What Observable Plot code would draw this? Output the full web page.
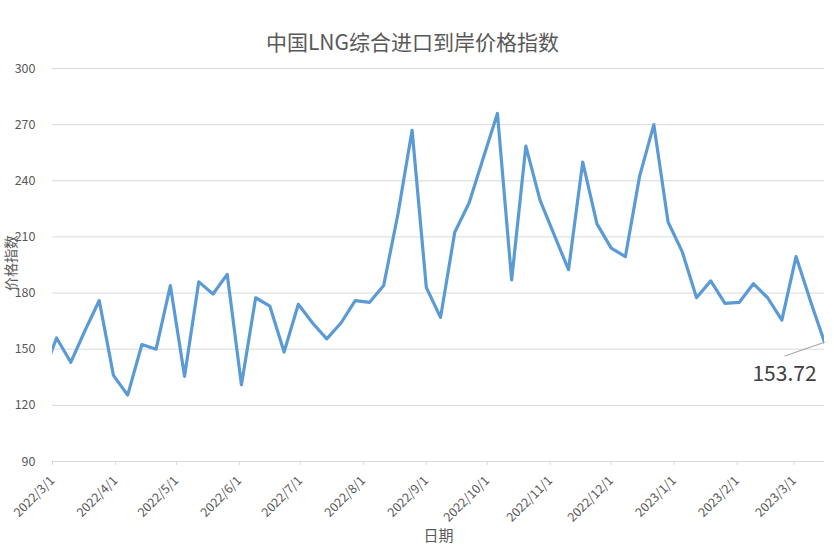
<!DOCTYPE html>
<html><head><meta charset="utf-8">
<script src="https://cdn.jsdelivr.net/npm/d3@7"></script>
<script src="https://cdn.jsdelivr.net/npm/@observablehq/plot@0.6"></script>
<style>body{margin:0;background:#fff;}</style>
</head><body><div id="chart"></div>
<script>
const title = "中国LNG综合进口到岸价格指数";
const yLabel = "价格指数";
const xLabel = "日期";
const lastLabel = "153.72";
const dates = [
  "2022-02-24","2022-03-03","2022-03-10","2022-03-17","2022-03-24","2022-03-31",
  "2022-04-07","2022-04-14","2022-04-21","2022-04-28",
  "2022-05-05","2022-05-12","2022-05-19","2022-05-26",
  "2022-06-02","2022-06-09","2022-06-16","2022-06-23","2022-06-30",
  "2022-07-07","2022-07-14","2022-07-21","2022-07-28",
  "2022-08-04","2022-08-11","2022-08-18","2022-08-25",
  "2022-09-01","2022-09-08","2022-09-15","2022-09-22","2022-09-29",
  "2022-10-06","2022-10-13","2022-10-20","2022-10-27",
  "2022-11-03","2022-11-10","2022-11-17","2022-11-24",
  "2022-12-01","2022-12-08","2022-12-15","2022-12-22","2022-12-29",
  "2023-01-05","2023-01-12","2023-01-19","2023-01-26",
  "2023-02-02","2023-02-09","2023-02-16","2023-02-23",
  "2023-03-02","2023-03-09","2023-03-16"
];
const values = [
  136, 156, 143, 160, 176, 136,
  125.5, 152.5, 150, 184,
  135.5, 186, 179.5, 190,
  131, 177.5, 173, 148.5, 174,
  164, 155.5, 164, 176,
  175, 184, 222, 267,
  183, 167, 212.5, 228, 252,
  276, 187, 258.5, 229.5,
  211, 192.5, 250, 217,
  204, 199.5, 242.5, 270, 218,
  202, 177.5, 186.5, 174.5,
  175, 185, 177.5, 165.5,
  199.5, 176, 153.72
];
const xTicks = ["2022-03-01","2022-04-01","2022-05-01","2022-06-01","2022-07-01","2022-08-01","2022-09-01","2022-10-01","2022-11-01","2022-12-01","2023-01-01","2023-02-01","2023-03-01"];
const yTicks = [90, 120, 150, 180, 210, 240, 270, 300];

const parse = d3.utcParse("%Y-%m-%d");
const data = dates.map((d, i) => ({date: parse(d), value: values[i]}));
const last = data[data.length - 1];
const font = "'Noto Sans CJK SC', 'Noto Sans', sans-serif";

const chart = Plot.plot({
  width: 834, height: 559,
  marginLeft: 52, marginRight: 10, marginTop: 68, marginBottom: 98,
  style: {fontFamily: font, background: "#fff", overflow: "visible"},
  x: {type: "utc", domain: [parse("2022-03-01"), parse("2023-03-16")]},
  y: {domain: [90, 300]},
  marks: [
    Plot.gridY(yTicks, {stroke: "#d9d9d9", strokeOpacity: 1, strokeWidth: 1}),
    Plot.axisY(yTicks, {tickSize: 0, tickPadding: 17, fill: "#595959", fontSize: 12.5, label: null}),
    Plot.axisX(xTicks.map(parse), {tickSize: 4, tickPadding: 13, stroke: "#d9d9d9", tickRotate: -45,
      tickFormat: d3.utcFormat("%Y/%-m/%-d"), fill: "#595959", fontSize: 12.5, label: null}),
    Plot.line(data, {x: "date", y: "value", stroke: "#5b9bd5", strokeWidth: 3.2, clip: true, strokeLinejoin: "round"}),
    Plot.vector([last], {x: "date", y: "value", anchor: "start", length: 42, rotate: 251,
      stroke: "#a6a6a6", strokeWidth: 1,
      shape: {draw(ctx, l) { ctx.moveTo(0, 0); ctx.lineTo(0, -l); }}}),
    Plot.text([last], {x: "date", y: "value", text: () => lastLabel, dx: -40, dy: 32, fontSize: 21, fill: "#404040"}),
    Plot.text([title], {frameAnchor: "top", dx: -26, dy: -33, fontSize: 21, fill: "#595959"}),
    Plot.text([yLabel], {frameAnchor: "left", textAnchor: "middle", rotate: -90, dx: -41, dy: -2, fontSize: 14, fill: "#595959"}),
    Plot.text([xLabel], {frameAnchor: "bottom", dy: 79, fontSize: 15, fill: "#595959"})
  ]
});
document.getElementById("chart").appendChild(chart);
</script>
</body></html>
